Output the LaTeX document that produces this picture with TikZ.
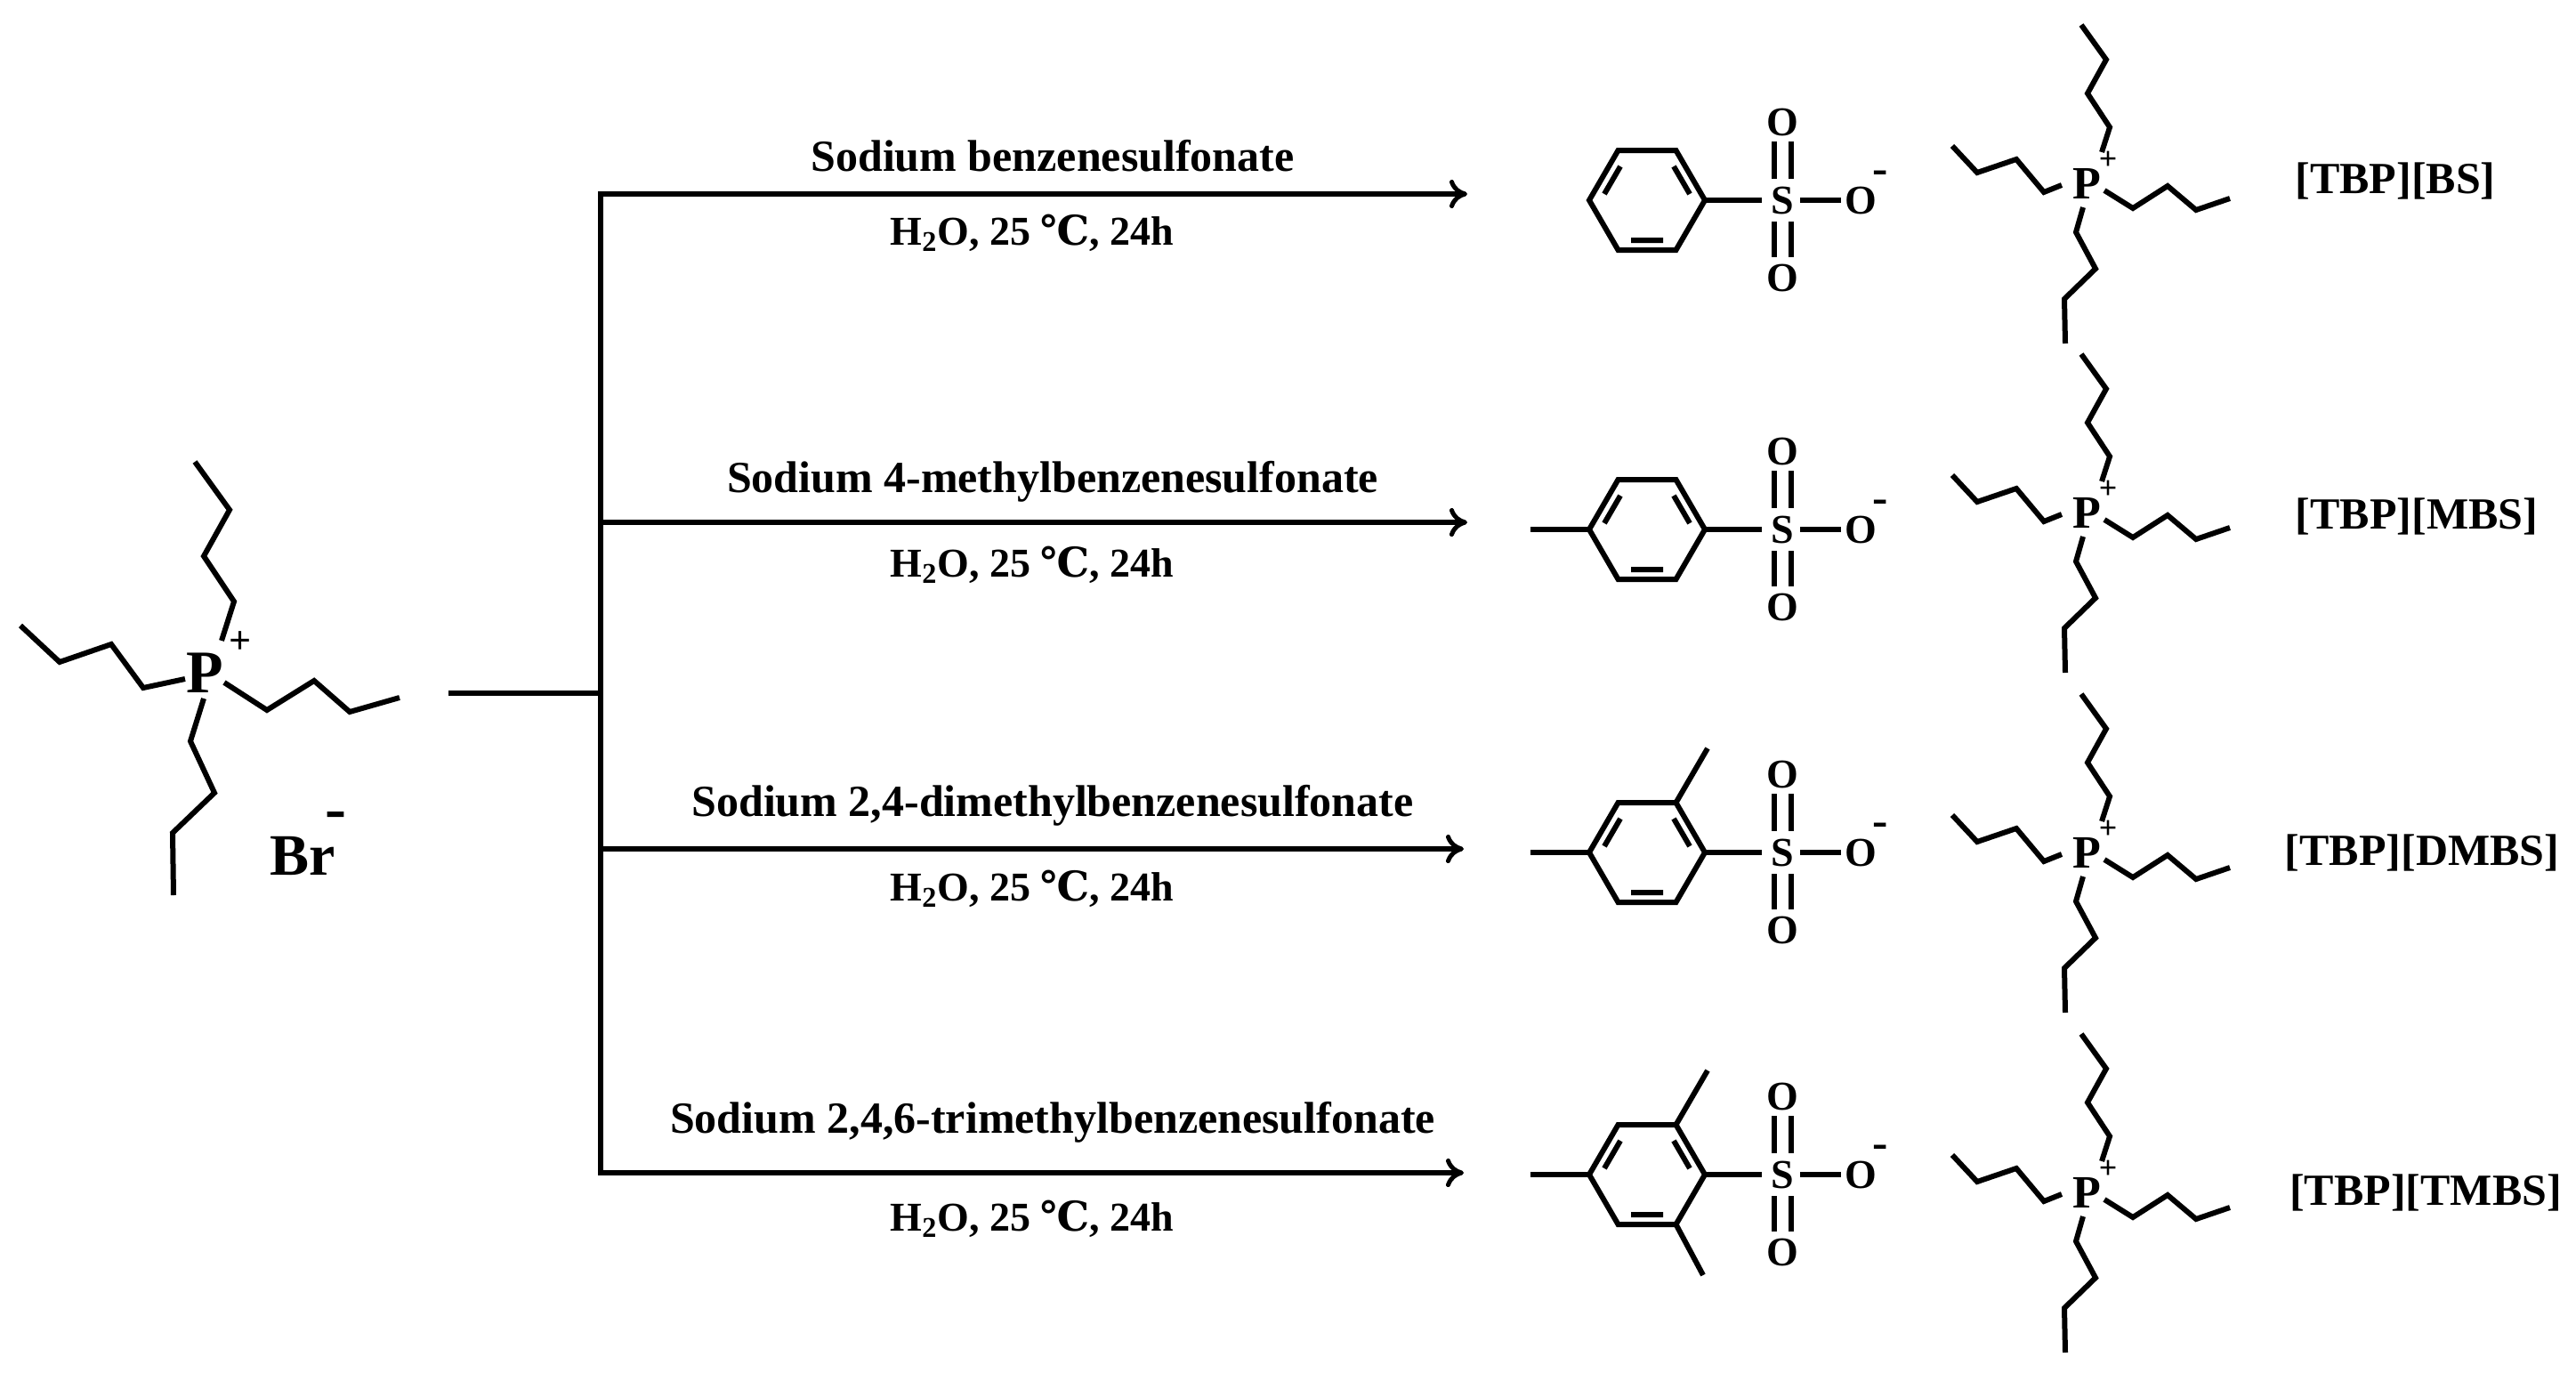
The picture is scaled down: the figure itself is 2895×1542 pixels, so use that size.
\documentclass[tikz,border=0pt]{standalone}
\usepackage{fontspec}
\setmainfont{Liberation Serif}
\newfontfamily\dejavu{DejaVu Serif}
\usetikzlibrary{arrows.meta}
\tikzset{x=0.5pt,y=-0.5pt,
 bond/.style={line width=3pt,line join=miter},
 rxn/.style={line width=3pt,-{To[length=10pt,width=16pt,line width=2.5pt]}},
 lbl/.style={font=\fontsize{25}{28}\selectfont\bfseries,inner sep=0},
 tag/.style={font=\fontsize{25}{28}\selectfont\bfseries,inner sep=0},
 cond/.style={font=\fontsize{23}{26}\selectfont\bfseries,inner sep=0},
 atom/.style={font=\fontsize{23}{26}\selectfont\bfseries,inner sep=0},
}
\newcommand\tbpcation[3]{%
 \begin{scope}[shift={(#1,#2)}]
  \node[font=\fontsize{26}{28}\selectfont\bfseries,inner sep=0] (P#3) at (0,0) {P};
  \node[font=\fontsize{18}{20}\selectfont\bfseries,inner sep=0] (Pp#3) at (24,-26) {+};
  \draw[bond] (17,-35)--(26,-63)--(1,-101)--(22,-139)--(-6,-178);
  \draw[bond] (-28,2)--(-48,10)--(-79,-27)--(-123,-12)--(-151,-42);
  \draw[bond] (20,8)--(52,28)--(91,3)--(123,30)--(161,17);
  \draw[bond] (-4,27)--(-12,55)--(10,96)--(-25,130)--(-24,180);
 \end{scope}}
\newcommand\sulfonate[6]{% x y name para orthotop orthobottom
 \begin{scope}[shift={(#1,#2)}]
  \node[atom] (S#3) at (0,0) {S};
  \node[atom] (O#3) at (88,0) {O};
  \node[font=\fontsize{26}{28}\selectfont\bfseries,inner sep=0] (Om#3) at (110,-26) {-};
  \node[atom] (Ou#3) at (0,-88) {O};
  \node[atom] (Od#3) at (0,87) {O};
  \draw[bond] (-87,0)--(-23,0);
  \draw[bond] (20,0)--(66,0);
  \draw[bond] (-9.5,-66)--(-9.5,-24) (9.5,-66)--(9.5,-24);
  \draw[bond] (-9.5,24)--(-9.5,64) (9.5,24)--(9.5,64);
  \begin{scope}[shift={(-152,0)}]
   \draw[bond] (65,0)--(32.5,-56)--(-32.5,-56)--(-65,0)--(-32.5,56)--(32.5,56)--cycle;
   \draw[bond] (-48,-7)--(-30,-38) (30,-38)--(48,-7) (-18,45)--(18,45);
   \ifnum#4=1 \draw[bond] (-65,0)--(-131,0);\fi
   \ifnum#5=1 \draw[bond] (32.5,-56)--(68,-117);\fi
   \ifnum#6=1 \draw[bond] (32.5,56)--(63,113);\fi
  \end{scope}
 \end{scope}}
\begin{document}
\begin{tikzpicture}
\useasboundingbox (0,0) rectangle (2895,1542);
% left cation
\node[font=\fontsize{34}{36}\selectfont\bfseries,inner sep=0] (P0) at (230,756) {P};
\node[font=\fontsize{22}{24}\selectfont\bfseries,inner sep=0] (P0p) at (270,722) {+};
\draw[bond] (249,720)--(263,676)--(229,625)--(258,573)--(219,519);
\draw[bond] (208,763)--(161,773)--(125,724)--(67,744)--(23,703);
\draw[bond] (252,767)--(300,798)--(353,765)--(393,800)--(449,784);
\draw[bond] (229,785)--(214,833)--(241,891)--(194,936)--(195,1006);
\node[font=\fontsize{33}{36}\selectfont\bfseries,inner sep=0] (Br) at (340,962) {Br};
\node[font=\fontsize{36}{38}\selectfont\bfseries,inner sep=0] (Brm) at (377,922) {-};
% branching
\coordinate (st) at (504,779);
\coordinate (jn) at (675,779);
\coordinate (b1) at (675,218); \coordinate (e1) at (1649,218);
\coordinate (b2) at (675,587); \coordinate (e2) at (1649,587);
\coordinate (b3) at (675,954); \coordinate (e3) at (1645,954);
\coordinate (b4) at (675,1318); \coordinate (e4) at (1645,1318);
\draw[bond] (st)--(jn);
\draw[bond,line cap=rect] (b1)--(b4);
\draw[rxn] (b1)--(e1); \draw[rxn] (b2)--(e2);
\draw[rxn] (b3)--(e3); \draw[rxn] (b4)--(e4);
\node[lbl] (n1) at (1183,175) {Sodium benzenesulfonate};
\node[lbl] (n2) at (1183,541) {Sodium 4-methylbenzenesulfonate};
\node[lbl] (n3) at (1183,905) {Sodium 2,4-dimethylbenzenesulfonate};
\node[lbl] (n4) at (1183,1261) {Sodium 2,4,6-trimethylbenzenesulfonate};
\foreach \i/\y in {1/262,2/635,3/999,4/1370}{
 \node[cond] (c\i) at (1160,\y) {H\textsubscript{2}O, 25 {\dejavu ℃}, 24h};}
\sulfonate{2003}{225}{1}{0}{0}{0}
\sulfonate{2003}{595}{2}{1}{0}{0}
\sulfonate{2003}{958}{3}{1}{1}{0}
\sulfonate{2003}{1320}{4}{1}{1}{1}
\tbpcation{2345}{206}{1}
\tbpcation{2345}{576}{2}
\tbpcation{2345}{958}{3}
\tbpcation{2345}{1340}{4}
\node[tag] (l1) at (2692,203) {[TBP][BS]};
\node[tag] (l2) at (2716,580) {[TBP][MBS]};
\node[tag] (l3) at (2722,958) {[TBP][DMBS]};
\node[tag] (l4) at (2726,1340) {[TBP][TMBS]};
\end{tikzpicture}
\end{document}
